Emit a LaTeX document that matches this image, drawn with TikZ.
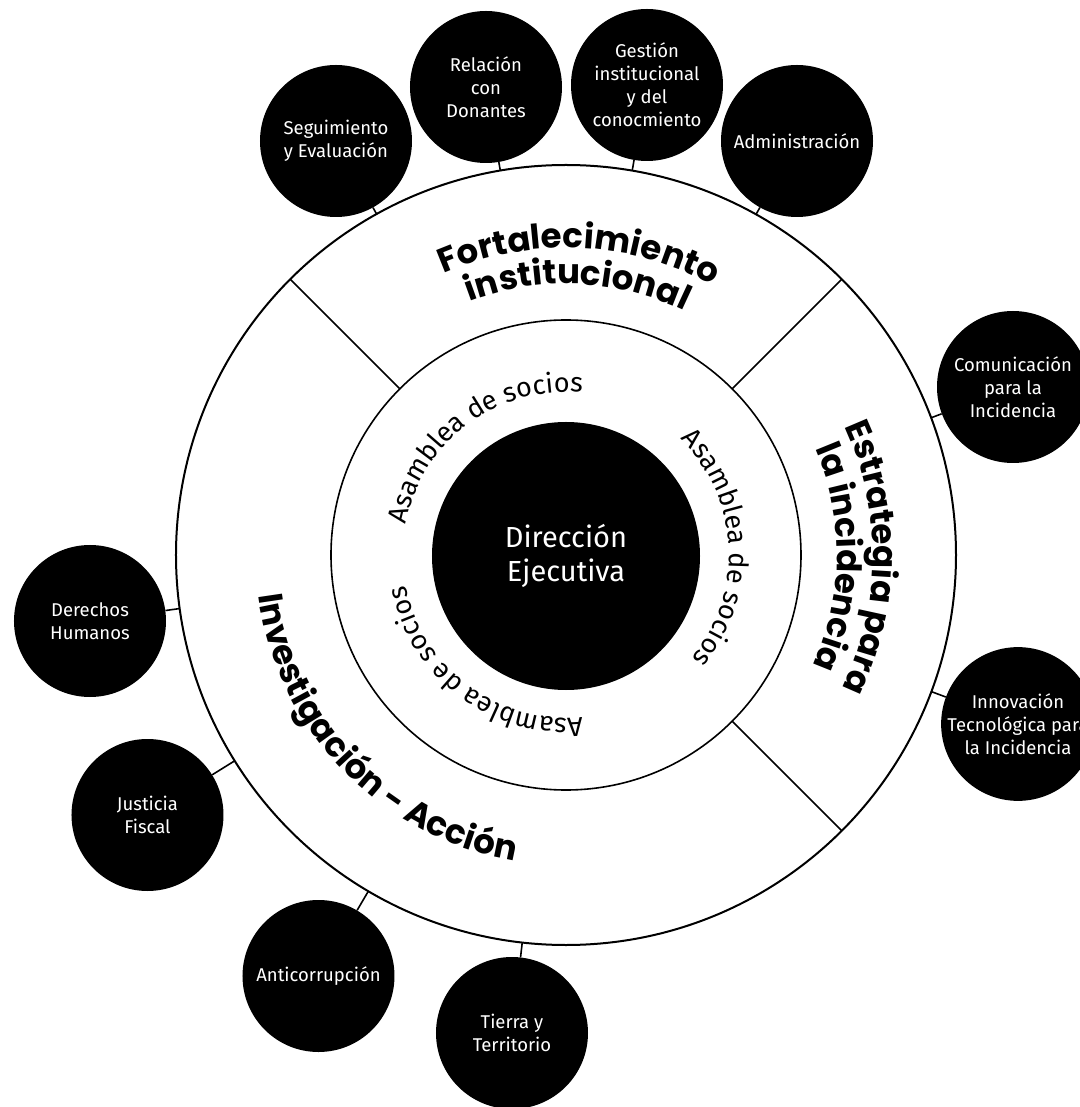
\documentclass[tikz,border=0pt]{standalone}
\usepackage{fontspec}
\setmainfont{Fira Sans}
\newfontfamily\titlefont{Poppins}
\usetikzlibrary{decorations.text,calc}
\begin{document}
\begin{tikzpicture}[x=1pt,y=1pt,
  sat/.style={circle,fill=black,minimum size=152pt,inner sep=0pt,text=white,align=center,font=\fontsize{18.5}{23}\selectfont},
  ringline/.style={line width=1.6pt},
  conn/.style={line width=1.6pt},
  arctext/.style={decorate,decoration={text along path,text align=center,text={#1}}}
  ]
\useasboundingbox (-566,-552) rectangle (513,555);
\fill[white] (-566,-552) rectangle (513,555);
\coordinate (C) at (0,0);
% rings
\draw[line width=2pt] (C) circle (390pt);
\draw[ringline] (C) circle (235pt);
\node[circle,fill=black,minimum size=268pt,inner sep=0pt,text=white,align=center,font=\fontsize{29}{34}\selectfont] (dir) at (0,-1) {Dirección\\Ejecutiva};
% dividers
\foreach \a/\nm in {45/d1,135/d2,-45/d3}{
  \coordinate (\nm i) at (\a:235pt);
  \coordinate (\nm o) at (\a:390pt);
  \draw[ringline] (\nm i) -- (\nm o);
}
% section titles
\path[arctext={|\titlefont\bfseries\fontsize{34}{36}\selectfont|Fortalecimiento}] (147.5:307pt) arc[start angle=147.5,end angle=27.5,radius=307pt];
\path[arctext={|\titlefont\bfseries\fontsize{34}{36}\selectfont|institucional}] (147.5:271pt) arc[start angle=147.5,end angle=27.5,radius=271pt];
\path[arctext={|\titlefont\bfseries\fontsize{34}{36}\selectfont|Estrategia para}] (59.5:307pt) arc[start angle=59.5,end angle=-60.5,radius=307pt];
\path[arctext={|\titlefont\bfseries\fontsize{34}{36}\selectfont|la incidencia}] (59.5:271pt) arc[start angle=59.5,end angle=-60.5,radius=271pt];
\path[arctext={|\titlefont\bfseries\fontsize{34}{36}\selectfont|Investigación - Acción}] (134:310pt) arc[start angle=134,end angle=314,radius=310pt];
% inner ring texts
\path[arctext={|\fontsize{27}{30}\selectfont|Asamblea de socios}] (186.7:163pt) arc[start angle=186.7,end angle=66.7,radius=163pt];
\path[arctext={|\fontsize{27}{30}\selectfont|Asamblea de socios}] (62.9:163pt) arc[start angle=62.9,end angle=-57.1,radius=163pt];
\path[arctext={|\fontsize{27}{30}\selectfont|Asamblea de socios}] (293.3:163pt) arc[start angle=293.3,end angle=173.3,radius=163pt];
% satellites
\node[sat] (seg) at (-230,414) {Seguimiento\\y Evaluación};
\node[sat] (rel) at (-80,468) {Relación\\con\\Donantes};
\node[sat] (ges) at (81,470) {Gestión\\institucional\\y del\\conocmiento};
\node[sat] (adm) at (231,414) {Administración};
\node[sat] (com) at (447,168) {Comunicación\\para la\\Incidencia};
\node[sat] (inn) at (452,-169) {Innovación\\Tecnológica para\\la Incidencia};
\node[sat] (der) at (-476,-66) {Derechos\\Humanos};
\node[sat] (jus) at (-418.5,-260) {Justicia\\Fiscal};
\node[sat] (ant) at (-247.5,-421) {Anticorrupción};
\node[sat] (tie) at (-54,-478) {Tierra y\\Territorio};
% connectors
\foreach \s in {seg,rel,ges,adm,com,inn,der,jus,ant,tie}{
  \coordinate (\s e) at ($(C)!390pt!(\s.center)$);
  \draw[conn] (\s) -- (\s e);
}
\end{tikzpicture}
\end{document}
